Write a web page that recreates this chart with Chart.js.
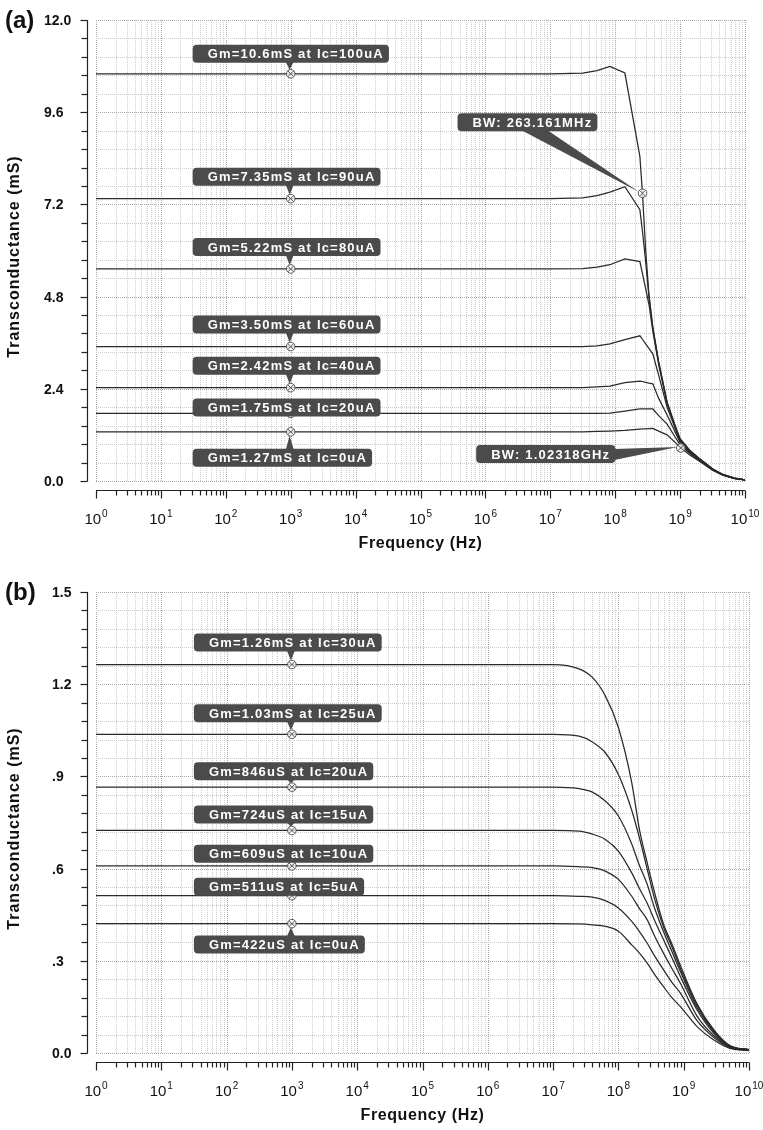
<!DOCTYPE html>
<html>
<head>
<meta charset="utf-8">
<script src="https://cdn.jsdelivr.net/npm/chart.js@4.4.1/dist/chart.umd.min.js"></script>
<style>
  html, body { margin: 0; padding: 0; background: #fff; }
  #wrap { position: relative; width: 763px; height: 1130px; }
  canvas { position: absolute; left: 0; }
  #chartA { top: 0; }
  #chartB { top: 572px; }
</style>
</head>
<body>
<div id="wrap">
  <canvas id="chartA" width="763" height="560"></canvas>
  <canvas id="chartB" width="763" height="558"></canvas>
</div>
<script>
const FONT = '"Liberation Sans", Arial, Helvetica, sans-serif';

// ---- panel (a): Gm vs frequency, Ic = 0..100uA ----
const freqA = [1, 1e1, 1e2, 1e3, 1e4, 1e5, 1e6, 1e7, 3.16e7, 5.25e7, 8.3e7, 1.41e8, 2.4e8, 2.63e8,
  2.95e8, 3.31e8, 3.8e8, 4.68e8, 6.31e8, 8.71e8, 1e9, 1.41e9, 2.04e9, 3.16e9, 4.57e9, 6.76e9, 1e10];
const gmA100 = [10.6, 10.6, 10.6, 10.6, 10.6, 10.6, 10.6, 10.6, 10.62, 10.68, 10.79, 10.62, 8.45, 7.49,
  6.0, 4.85, 4.0, 3.1, 2.05, 1.36, 1.10, 0.80, 0.57, 0.32, 0.17, 0.08, 0.03];
const gmA90 = [7.35, 7.35, 7.35, 7.35, 7.35, 7.35, 7.35, 7.35, 7.37, 7.43, 7.52, 7.66, 7.06, 6.5,
  5.7, 4.8, 3.98, 3.08, 2.04, 1.35, 1.09, 0.79, 0.56, 0.31, 0.17, 0.08, 0.03];
const gmA80 = [5.52, 5.52, 5.52, 5.52, 5.52, 5.52, 5.52, 5.52, 5.53, 5.57, 5.63, 5.78, 5.71, 5.4,
  5.0, 4.6, 3.9, 3.02, 2.02, 1.34, 1.07, 0.78, 0.56, 0.31, 0.16, 0.07, 0.03];
const gmA60 = [3.5, 3.5, 3.5, 3.5, 3.5, 3.5, 3.5, 3.5, 3.5, 3.52, 3.57, 3.68, 3.78, 3.69,
  3.57, 3.45, 3.31, 2.75, 1.92, 1.3, 1.03, 0.76, 0.55, 0.3, 0.16, 0.07, 0.03];
const gmA40 = [2.43, 2.43, 2.43, 2.43, 2.43, 2.43, 2.43, 2.43, 2.43, 2.45, 2.47, 2.56, 2.60, 2.59,
  2.57, 2.55, 2.53, 2.15, 1.72, 1.22, 1.0, 0.74, 0.54, 0.3, 0.16, 0.07, 0.03];
const gmA20 = [1.76, 1.76, 1.76, 1.76, 1.76, 1.76, 1.76, 1.76, 1.76, 1.76, 1.77, 1.82, 1.875, 1.875,
  1.875, 1.875, 1.875, 1.7, 1.48, 1.1, 0.94, 0.72, 0.53, 0.29, 0.15, 0.07, 0.03];
const gmA0 = [1.28, 1.28, 1.28, 1.28, 1.28, 1.28, 1.28, 1.28, 1.28, 1.29, 1.30, 1.32, 1.35, 1.355,
  1.36, 1.365, 1.37, 1.3, 1.2, 0.98, 0.88, 0.68, 0.5, 0.28, 0.15, 0.07, 0.03];
const labelsA = ['Gm=10.6mS at Ic=100uA', 'Gm=7.35mS at Ic=90uA', 'Gm=5.22mS at Ic=80uA',
  'Gm=3.50mS at Ic=60uA', 'Gm=2.42mS at Ic=40uA', 'Gm=1.75mS at Ic=20uA', 'Gm=1.27mS at Ic=0uA'];
const bwFreqA = [263.161e6, 1.02318e9];
const bwValueA = [7.49, 0.86];
const bwTextA = ['BW: 263.161MHz', 'BW: 1.02318GHz'];
const yMajorA = [0, 2.4, 4.8, 7.2, 9.6, 12];
const yTickLabelsA = ['0.0', '2.4', '4.8', '7.2', '9.6', '12.0'];

// ---- panel (b): Gm vs frequency, Ic = 0..30uA ----
const freqB = [1, 1e1, 1e2, 1e3, 1e4, 1e5, 1e6, 1e7, 2.5e7, 4e7, 6.3e7, 1e8, 1.6e8, 2.1e8,
  2.75e8, 3.6e8, 4.9e8, 6.6e8, 8.9e8, 1.6e9, 2.9e9, 5.1e9, 1e10];
const gmB30 = [1.264, 1.264, 1.264, 1.264, 1.264, 1.264, 1.264, 1.264, 1.25, 1.222, 1.162, 1.059, 0.88, 0.727,
  0.62, 0.52, 0.42, 0.355, 0.285, 0.16, 0.075, 0.024, 0.011];
const gmB25 = [1.037, 1.037, 1.037, 1.037, 1.037, 1.037, 1.037, 1.037, 1.031, 1.012, 0.977, 0.906, 0.79, 0.70,
  0.60, 0.50, 0.41, 0.345, 0.275, 0.155, 0.072, 0.023, 0.011];
const gmB20 = [0.865, 0.865, 0.865, 0.865, 0.865, 0.865, 0.865, 0.865, 0.86, 0.849, 0.82, 0.771, 0.68, 0.61,
  0.55, 0.47, 0.395, 0.33, 0.265, 0.148, 0.068, 0.022, 0.010];
const gmB15 = [0.724, 0.724, 0.724, 0.724, 0.724, 0.724, 0.724, 0.724, 0.722, 0.712, 0.695, 0.657, 0.586, 0.535,
  0.488, 0.43, 0.369, 0.31, 0.249, 0.14, 0.064, 0.020, 0.010];
const gmB10 = [0.609, 0.609, 0.609, 0.609, 0.609, 0.609, 0.609, 0.609, 0.606, 0.603, 0.592, 0.565, 0.51, 0.47,
  0.434, 0.38, 0.325, 0.275, 0.227, 0.12, 0.056, 0.019, 0.010];
const gmB5 = [0.512, 0.512, 0.512, 0.512, 0.512, 0.512, 0.512, 0.512, 0.51, 0.507, 0.496, 0.472, 0.428, 0.395,
  0.358, 0.315, 0.271, 0.23, 0.195, 0.105, 0.05, 0.017, 0.009];
const gmB0 = [0.421, 0.421, 0.421, 0.421, 0.421, 0.421, 0.421, 0.421, 0.42, 0.417, 0.412, 0.396, 0.352, 0.325,
  0.293, 0.255, 0.216, 0.18, 0.151, 0.086, 0.042, 0.015, 0.008];
const labelsB = ['Gm=1.26mS at Ic=30uA', 'Gm=1.03mS at Ic=25uA', 'Gm=846uS at Ic=20uA',
  'Gm=724uS at Ic=15uA', 'Gm=609uS at Ic=10uA', 'Gm=511uS at Ic=5uA', 'Gm=422uS at Ic=0uA'];
const yMajorB = [0, 0.3, 0.6, 0.9, 1.2, 1.5];
const yTickLabelsB = ['0.0', '.3', '.6', '.9', '1.2', '1.5'];

const markerFreq = 1e3;
const xExponents = [0, 1, 2, 3, 4, 5, 6, 7, 8, 9, 10];

// label box offsets (px) from the marker, layout only
const calloutDyA = [-20, -22, -22, -22, -22, -6, 26];
const calloutDyB = [-22, -21, -16, -16, -12, -9, 21];
const bwOffsetA = [[-115, -71, 'bottom'], [-135, 6, 'right']];

function decadeTicks() {
  const t = [];
  for (let k = 0; k < 10; k++) {
    for (let m = 1; m < 10; m++) t.push({ value: m * Math.pow(10, k), major: m === 1 });
  }
  t.push({ value: 1e10, major: true });
  return t;
}

function subTicks(majors, n) {
  const t = [];
  for (let i = 0; i < majors.length - 1; i++) {
    for (let j = 0; j < n; j++) {
      t.push({ value: majors[i] + (majors[i + 1] - majors[i]) * j / n, major: j === 0, idx: j === 0 ? i : -1 });
    }
  }
  t.push({ value: majors[majors.length - 1], major: true, idx: majors.length - 1 });
  return t;
}

function seg(ctx, x1, y1, x2, y2) {
  ctx.beginPath();
  ctx.moveTo(x1, y1);
  ctx.lineTo(x2, y2);
  ctx.stroke();
}

function drawMarker(ctx, x, y) {
  const r = 4.3, d = r * 0.7;
  ctx.save();
  ctx.setLineDash([]);
  ctx.beginPath();
  ctx.arc(x, y, r, 0, Math.PI * 2);
  ctx.fillStyle = 'rgba(255,255,255,0.75)';
  ctx.fill();
  ctx.strokeStyle = '#555';
  ctx.lineWidth = 1;
  ctx.stroke();
  seg(ctx, x - d, y - d, x + d, y + d);
  seg(ctx, x - d, y + d, x + d, y - d);
  ctx.restore();
}

function boxFont(ctx) {
  ctx.font = 'bold 13px ' + FONT;
  ctx.letterSpacing = '1.2px';
}

function drawBox(ctx, left, cy, w, h, text) {
  ctx.fillStyle = '#4b4b4b';
  ctx.beginPath();
  ctx.roundRect(left, cy - h / 2, w, h, 4);
  ctx.fill();
  ctx.fillStyle = '#fff';
  ctx.textAlign = 'left';
  ctx.textBaseline = 'middle';
  ctx.fillText(text, left + 15, cy + 1);
}

function makeFrame(cfg) {
  return {
    id: 'frame' + cfg.panel,
    beforeDatasetsDraw(chart) {
      const { ctx, chartArea: a, scales: { x, y } } = chart;
      ctx.save();
      ctx.lineWidth = 1;
      ctx.setLineDash([1, 1]);
      x.ticks.forEach(t => {
        const px = Math.round(x.getPixelForValue(t.value)) + 0.5;
        ctx.strokeStyle = t.major ? '#a8a8a8' : '#cdcdcd';
        seg(ctx, px, a.top, px, a.bottom);
      });
      y.ticks.forEach(t => {
        const py = Math.round(y.getPixelForValue(t.value)) + 0.5;
        ctx.strokeStyle = t.major ? '#a8a8a8' : '#cdcdcd';
        seg(ctx, a.left, py, a.right, py);
      });
      ctx.restore();
    },
    afterDatasetsDraw(chart) {
      const { ctx, scales: { x, y } } = chart;
      const k = cfg.freq.indexOf(markerFreq);
      ctx.save();
      const pts = cfg.labels.map((text, i) => ({
        text, dy: cfg.dy[i],
        mx: x.getPixelForValue(markerFreq),
        my: y.getPixelForValue(cfg.series[i][k])
      }));
      pts.forEach(p => drawMarker(ctx, p.mx, p.my));
      const bws = (cfg.bw || []).map(b => ({ ...b, mx: x.getPixelForValue(b.f), my: y.getPixelForValue(b.v) }));
      bws.forEach(b => drawMarker(ctx, b.mx, b.my));

      boxFont(ctx);
      const h = 18;
      pts.forEach(p => {
        const w = ctx.measureText(p.text).width + 20;
        const left = p.mx - 98;
        const cy = p.my + p.dy;
        ctx.fillStyle = '#4b4b4b';
        if (p.dy < -12) {
          ctx.beginPath();
          ctx.moveTo(p.mx - 5, cy + h / 2 - 1);
          ctx.lineTo(p.mx + 3, cy + h / 2 - 1);
          ctx.lineTo(p.mx - 1, p.my - 4);
          ctx.closePath();
          ctx.fill();
        } else if (p.dy > 12) {
          ctx.beginPath();
          ctx.moveTo(p.mx - 5, cy - h / 2 + 1);
          ctx.lineTo(p.mx + 3, cy - h / 2 + 1);
          ctx.lineTo(p.mx - 1, p.my + 4);
          ctx.closePath();
          ctx.fill();
        }
        drawBox(ctx, left, cy, w, h, p.text);
      });
      bws.forEach(b => {
        const w = ctx.measureText(b.text).width + 20;
        const cx = b.mx + b.dx, cy = b.my + b.dy;
        ctx.fillStyle = '#4b4b4b';
        ctx.beginPath();
        if (b.side === 'bottom') {
          ctx.moveTo(cx - 6, cy + h / 2 - 1);
          ctx.lineTo(cx + 20, cy + h / 2 - 1);
        } else {
          ctx.moveTo(cx + w / 2 - 1, cy - 5);
          ctx.lineTo(cx + w / 2 - 1, cy + 6);
        }
        ctx.lineTo(b.mx - 3, b.my - 1);
        ctx.closePath();
        ctx.fill();
        drawBox(ctx, cx - w / 2, cy, w, h, b.text);
      });
      ctx.letterSpacing = '0px';
      ctx.restore();
    },
    afterDraw(chart) {
      const { ctx, chartArea: a, scales: { x, y } } = chart;
      ctx.save();
      ctx.strokeStyle = '#222';
      ctx.lineWidth = 1.2;
      // offset y axis
      const ax = a.left - 8.5;
      seg(ctx, ax, a.top, ax, a.bottom + 0.5);
      ctx.fillStyle = '#111';
      ctx.font = 'bold 14px ' + FONT;
      ctx.textAlign = 'left';
      ctx.textBaseline = 'middle';
      y.ticks.forEach(t => {
        const py = Math.round(y.getPixelForValue(t.value)) + 0.5;
        seg(ctx, ax - (t.major ? 7 : 6), py, ax, py);
        if (t.idx >= 0) ctx.fillText(cfg.yTickLabels[t.idx], cfg.yLabelX, py + 1);
      });
      // offset x axis
      const ay = a.bottom + 9.5;
      seg(ctx, a.left, ay, a.right, ay);
      x.ticks.forEach(t => {
        const px = Math.round(x.getPixelForValue(t.value)) + 0.5;
        seg(ctx, px, ay, px, ay + (t.major ? 8 : 5));
      });
      ctx.textBaseline = 'alphabetic';
      xExponents.forEach(e => {
        const px = x.getPixelForValue(Math.pow(10, e));
        ctx.font = '15px ' + FONT;
        const w1 = ctx.measureText('10').width;
        ctx.font = '10px ' + FONT;
        const w2 = ctx.measureText(String(e)).width;
        const left = px - (w1 + w2 + 1) / 2;
        ctx.font = '15px ' + FONT;
        ctx.fillText('10', left, a.bottom + 43);
        ctx.font = '10px ' + FONT;
        ctx.fillText(String(e), left + w1 + 1, a.bottom + 36);
      });
      // titles
      ctx.font = 'bold 16px ' + FONT;
      ctx.letterSpacing = '0.6px';
      ctx.textAlign = 'center';
      ctx.textBaseline = 'middle';
      ctx.fillText('Frequency (Hz)', (a.left + a.right) / 2, a.bottom + 63);
      ctx.save();
      ctx.translate(15, (a.top + a.bottom) / 2 + 6);
      ctx.rotate(-Math.PI / 2);
      ctx.letterSpacing = '1px';
      ctx.fillText('Transconductance (mS)', 0, 0);
      ctx.restore();
      ctx.letterSpacing = '0px';
      ctx.font = 'bold 24px ' + FONT;
      ctx.textAlign = 'left';
      ctx.fillText(cfg.panel, 5, a.top + 1);
      ctx.restore();
    }
  };
}

function buildChart(id, cfg) {
  return new Chart(document.getElementById(id), {
    type: 'line',
    data: {
      datasets: cfg.series.map(s => ({
        data: cfg.freq.map((f, i) => ({ x: f, y: s[i] })),
        borderColor: '#2a2a2a',
        borderWidth: 1.25,
        pointRadius: 0,
        fill: false,
        tension: 0,
        cubicInterpolationMode: cfg.smooth ? 'monotone' : 'default'
      }))
    },
    options: {
      responsive: false,
      animation: false,
      events: [],
      layout: { padding: { left: 0, right: cfg.padRight, top: 20, bottom: 0 } },
      plugins: { legend: { display: false }, tooltip: { enabled: false } },
      scales: {
        x: {
          type: 'logarithmic', min: 1, max: 1e10,
          grid: { display: false }, border: { display: false }, ticks: { display: false },
          afterBuildTicks: s => { s.ticks = decadeTicks(); },
          afterFit: s => { s.height = cfg.xHeight; }
        },
        y: {
          type: 'linear', min: 0, max: cfg.yMajor[cfg.yMajor.length - 1],
          grid: { display: false }, border: { display: false }, ticks: { display: false },
          afterBuildTicks: s => { s.ticks = subTicks(cfg.yMajor, 5); },
          afterFit: s => { s.width = 96; }
        }
      }
    },
    plugins: [makeFrame(cfg)]
  });
}

buildChart('chartA', {
  panel: '(a)',
  freq: freqA,
  series: [gmA100, gmA90, gmA80, gmA60, gmA40, gmA20, gmA0],
  labels: labelsA,
  dy: calloutDyA,
  bw: bwFreqA.map((f, i) => ({ f, v: bwValueA[i], text: bwTextA[i], dx: bwOffsetA[i][0], dy: bwOffsetA[i][1], side: bwOffsetA[i][2] })),
  yMajor: yMajorA,
  yTickLabels: yTickLabelsA,
  yLabelX: 44,
  padRight: 18,
  xHeight: 79,
  smooth: false
});

buildChart('chartB', {
  panel: '(b)',
  freq: freqB,
  series: [gmB30, gmB25, gmB20, gmB15, gmB10, gmB5, gmB0],
  labels: labelsB,
  dy: calloutDyB,
  bw: [],
  yMajor: yMajorB,
  yTickLabels: yTickLabelsB,
  yLabelX: 52,
  padRight: 14,
  xHeight: 77,
  smooth: true
});
</script>
</body>
</html>
